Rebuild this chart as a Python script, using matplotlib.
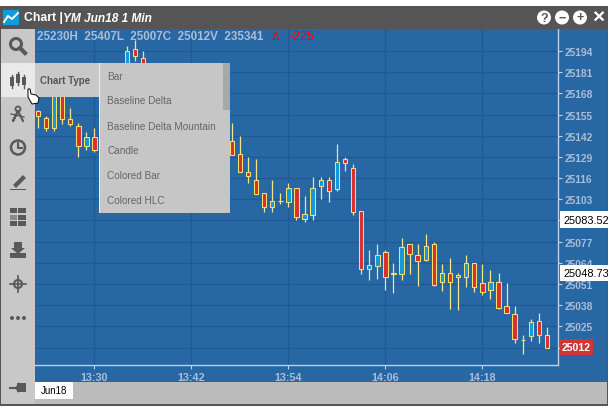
import matplotlib
matplotlib.use("Agg")
import matplotlib.pyplot as plt
from matplotlib.patches import Rectangle, Circle, Polygon

plt.rcParams['font.family'] = ['Liberation Sans', 'DejaVu Sans']

# minutes after 13:30, only the candles that are not behind the menu
minutes = [-7, -6, -5, -4, -3, -2, -1, 0, 4, 5, 6,
           17, 18, 19, 20, 21, 22, 23, 24, 25, 26, 27, 28, 29, 30, 31, 32, 33,
           34, 35, 36, 37, 38, 39, 40, 41, 42, 43, 44, 45, 46, 47, 48, 49, 50,
           51, 52, 53, 54, 55, 56]
opens = [25157, 25153, 25147, 25168, 25152, 25148, 25136, 25141, 25170, 25195, 25190,
         25139, 25131, 25120, 25115, 25107, 25098, 25102, 25101.5, 25110, 25091, 25093.5, 25111, 25115,
         25109.5, 25127.5, 25122.5, 25096, 25060, 25062, 25070.5, 25058, 25057, 25075.5, 25068.5, 25065.5, 25075.5, 25052,
         25057.5, 25055, 25055.5, 25064, 25051.5, 25047.5, 25052.5, 25037.5, 25032.5, 25016.5, 25019, 25028.5, 25019.5]
highs = [25158, 25154, 25170, 25170, 25159, 25150, 25144, 25147, 25197, 25201, 25194,
         25150, 25142, 25129, 25127.5, 25107, 25115, 25107, 25113, 25110, 25105, 25116.5, 25116.5, 25116.5,
         25137, 25129, 25124.5, 25096, 25072, 25075.5, 25072, 25064, 25079.5, 25075.5, 25075.5, 25081.5, 25076.5, 25063.5,
         25067, 25058, 25068.5, 25064, 25063.5, 25059.5, 25058, 25051.5, 25037.5, 25020, 25029.5, 25033.5, 25024.5]
lows = [25147, 25145, 25145, 25149, 25148, 25129, 25133, 25132, 25165, 25188, 25165,
        25130, 25120, 25113, 25106, 25095, 25095, 25100, 25098, 25090, 25089, 25090.5, 25103, 25101.5,
        25108, 25120.5, 25093.5, 25057, 25053.5, 25054, 25047.5, 25045.5, 25053.5, 25057, 25049.5, 25065, 25049.5, 25046.5,
        25035.5, 25035, 25049, 25046, 25044.5, 25041.5, 25035.5, 25033.5, 25014.5, 25008, 25016, 25014.5, 25012]
closes = [25154, 25147, 25168, 25152, 25149, 25136, 25141, 25133, 25194, 25191, 25170,
          25130, 25120, 25117, 25106, 25098, 25102, 25102, 25110, 25092, 25094, 25110, 25115, 25108,
          25126, 25125, 25095.5, 25060, 25062.5, 25068.5, 25055.5, 25057, 25073.5, 25069.5, 25065, 25074.5, 25050.5, 25057.5,
          25052.5, 25056.5, 25064, 25049, 25046, 25052.5, 25036.5, 25033.5, 25017.5, 25016.5, 25027.5, 25019.5, 25012]

y_ticks = [25194, 25181, 25168, 25155, 25142, 25129, 25116, 25103, 25090, 25077, 25064, 25051, 25038, 25025, 25012]
y_labels = ['25194', '25181', '25168', '25155', '25142', '25129', '25116', '25103', '',
            '25077', '25064', '25051', '25038', '25025', '']
x_ticks = [0, 12, 24, 36, 48]
x_labels = ['13:30', '13:42', '13:54', '14:06', '14:18']
menu_items = ['Bar', 'Baseline Delta', 'Baseline Delta Mountain', 'Candle', 'Colored Bar', 'Colored HLC']

BLUE = '#2767a4'
GRID = '#215a91'
LABEL = '#a9bdd8'
AXIS = '#c3cfe0'
PANEL = '#c8c8c8'
DARK = '#555555'
ICON = '#595959'

fig = plt.figure(figsize=(6.08, 4.10), dpi=100, facecolor='white')
W, H = 608.0, 410.0


def px_axes(left, top, right, bottom, z):
    a = fig.add_axes([left / W, 1 - bottom / H, (right - left) / W, (bottom - top) / H], zorder=z)
    return a


bg = px_axes(0, 0, W, H, 0)
bg.set_xlim(0, W)
bg.set_ylim(H, 0)
bg.axis('off')
bg.add_patch(Rectangle((35, 30), 572, 353, fc=BLUE, ec='none'))

# price chart
ax = px_axes(35, 30, 557.5, 366, 1)
ax.patch.set_alpha(0)
ax.set_xlim(-7.36, 57.3)
ax.set_ylim(25001.3, 25207.5)
ax.set_xticks(x_ticks)
ax.set_xticklabels(x_labels)
ax.set_yticks(y_ticks)
ax.set_yticklabels(y_labels)
ax.yaxis.tick_right()
ax.tick_params(axis='both', length=3, width=0.8, color=AXIS, labelcolor=LABEL, pad=2)
ax.tick_params(axis='y', labelsize=7.4)
ax.tick_params(axis='x', labelsize=7.8)
for lab in ax.get_xticklabels() + ax.get_yticklabels():
    lab.set_fontweight('bold')
ax.grid(True, color=GRID, lw=1)
ax.set_axisbelow(True)
for side in ['top', 'left']:
    ax.spines[side].set_visible(False)
for side in ['bottom', 'right']:
    ax.spines[side].set_color(AXIS)
    ax.spines[side].set_linewidth(1)

ax.vlines(minutes, lows, highs, color='#f3e58e', lw=0.9, zorder=3)
for m, o, c in zip(minutes, opens, closes):
    col = '#0f9bdc' if c > o else '#d9302f'
    ax.bar(m, abs(c - o), bottom=min(o, c), width=0.55, color=col, edgecolor='#f5df72', linewidth=0.75, zorder=4)

# everything around and on top of the chart
ui = px_axes(0, 0, W, H, 2)
ui.set_xlim(0, W)
ui.set_ylim(H, 0)
ui.axis('off')
ui.patch.set_alpha(0)


def rect(x, y, w, h, col, **kw):
    ui.add_patch(Rectangle((x, y), w, h, fc=col, ec='none', **kw))


rect(0, 7, 608, 23, DARK)
rect(0, 30, 35, 353, PANEL)
rect(0, 383, 35, 22, PANEL)
rect(35, 383, 572, 22, '#bbbbbb')
rect(0, 405, 608, 1.5, DARK)
rect(0, 7, 1, 399, DARK)
rect(607, 7, 1, 399, DARK)

# header
rect(3, 11, 16, 15, '#0f9bdc')
ui.plot([4, 8, 12, 18], [23, 17, 20, 14], color='white', lw=1.4)
ui.text(24, 18.5, 'Chart |', color='white', fontsize=8.8, fontweight='bold', va='center')
ui.text(63, 18.5, 'YM Jun18 1 Min', color='white', fontsize=8.6, fontweight='bold', style='italic', va='center')
for cx, s in zip([544, 562, 580, 598], ['?', '\u2212', '+', '\u00d7']):
    if s == '\u00d7':
        ui.text(cx, 18, s, color='white', fontsize=15, fontweight='bold', ha='center', va='center')
    else:
        ui.add_patch(Circle((cx, 18.5), 7, fc='white', ec='none'))
        ui.text(cx, 18.5, s, color=DARK, fontsize=9, fontweight='bold', ha='center', va='center')

# info line
ui.text(37, 36.5, '25230H  25407L  25007C  25012V  235341', color=LABEL, fontsize=8.4, fontweight='bold', va='center')
ui.text(272, 36.5, '\u0394', color='#ff0000', fontsize=8, va='center')
ui.text(290, 36.5, '-225', color='#ff0000', fontsize=9, va='center')

# left toolbar icons
ui.add_patch(Circle((16, 45), 5.5, fc='none', ec=ICON, lw=2.2))
ui.plot([20, 25], [49, 54], color=ICON, lw=3)
rect(1, 64, 34, 34, '#e9e9e9')
for x, y0, y1, b0, b1 in [(12, 76, 89, 78, 87), (18, 73, 86, 75, 84), (24, 76, 89, 78, 86)]:
    ui.plot([x, x], [y0, y1], color=ICON, lw=1)
    rect(x - 2, b0, 4, b1 - b0, ICON)
ui.add_patch(Circle((18, 110), 2.5, fc='none', ec=ICON, lw=1.3))
ui.plot([18, 13, 18, 23], [112, 122, 112, 122], color=ICON, lw=1.5)
ui.plot([11, 24], [115, 118], color=ICON, lw=1)
ui.add_patch(Circle((18, 148.5), 7, fc='none', ec=ICON, lw=1.8))
ui.plot([18, 18, 22], [144, 149, 149], color=ICON, lw=1.5)
ui.add_patch(Polygon([[13, 186], [23, 176], [26, 179], [16, 189]], fc=ICON, ec='none'))
rect(10, 189.5, 16, 1.6, ICON)
for row, y in enumerate([209, 215.5, 222]):
    rect(10, y, 7, 5, ICON if row != 1 else '#8a8a8a')
    rect(18, y, 8, 5, ICON)
ui.add_patch(Polygon([[14, 243], [22, 243], [22, 249], [25, 249], [18, 255], [11, 249], [14, 249]], fc=ICON, ec='none'))
rect(10, 254, 16, 5, ICON)
ui.add_patch(Circle((18, 285), 4, fc='none', ec=ICON, lw=1.5))
ui.plot([10, 26], [285, 285], color=ICON, lw=1.2)
ui.plot([18, 18], [277, 293], color=ICON, lw=1.2)
for cx in [12, 18, 24]:
    ui.add_patch(Circle((cx, 319), 2, fc=ICON, ec='none'))
rect(17, 384, 9, 9, ICON)
ui.add_patch(Polygon([[19, 383], [19, 394], [15, 389.5]], fc=ICON, ec='none'))
ui.plot([10, 18], [388.5, 388.5], color=ICON, lw=1.5)

# chart type menu
rect(35, 64, 64, 34, PANEL)
ui.text(40, 81, 'Chart Type', color=DARK, fontsize=7, fontweight='bold', va='center')
rect(99, 64, 131, 150, '#c6c6c6')
rect(99, 64, 1, 150, '#e8eef5')
rect(223, 64, 7, 47, '#a8a8a8')
for i, item in enumerate(menu_items):
    ui.text(107, 76.5 + 25 * i, item, color='#666666', fontsize=7.2, va='center')

# hand cursor
ui.add_patch(Polygon([[28, 90], [30, 90], [31, 95], [36, 96], [39, 99], [38, 104], [32, 105], [28, 98]],
                     fc='white', ec='black', lw=0.7))

# price tags
rect(560, 212, 48, 17, 'white')
ui.text(563, 221, '25083.52', color='black', fontsize=7.9, va='center')
rect(560, 266, 48, 16, 'white')
ui.text(563, 274.5, '25048.73', color='black', fontsize=7.9, va='center')
rect(560, 340, 33, 16, '#cf3535')
ui.text(576.5, 348.5, '25012', color='white', fontsize=7.6, fontweight='bold', ha='center', va='center')

# contract tab
rect(35, 383, 38, 17, 'white')
ui.text(54, 391.5, 'Jun18', color='black', fontsize=7, ha='center', va='center')

fig.savefig('out.png', dpi=100)
